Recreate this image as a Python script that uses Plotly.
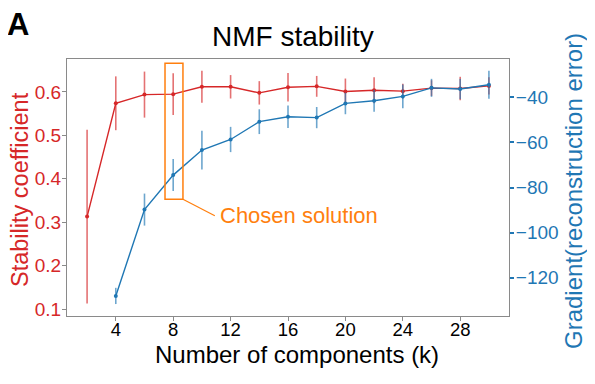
import plotly.graph_objects as go

# ---- data ----
k_stability = [2, 4, 6, 8, 10, 12, 14, 16, 18, 20, 22, 24, 26, 28, 30]
stability = [0.313, 0.574, 0.594, 0.595, 0.612, 0.612, 0.598, 0.611, 0.613,
             0.601, 0.604, 0.602, 0.609, 0.608, 0.614]
stability_err = [0.200, 0.062, 0.053, 0.048, 0.037, 0.027, 0.027, 0.033, 0.024,
                 0.030, 0.030, 0.017, 0.018, 0.027, 0.020]

k_gradient = [4, 6, 8, 10, 12, 14, 16, 18, 20, 22, 24, 26, 28, 30]
gradient = [-128.1, -89.8, -74.5, -63.4, -58.7, -50.8, -48.6, -49.0, -42.7,
            -41.5, -39.6, -35.8, -36.3, -34.4]
gradient_err = [3.6, 7.1, 7.1, 8.6, 5.6, 5.5, 5.0, 4.7, 4.8, 4.9, 5.3, 4.0, 4.5, 6.2]

x_ticks = [4, 8, 12, 16, 20, 24, 28]
y_left_ticks = [0.1, 0.2, 0.3, 0.4, 0.5, 0.6]
y_right_ticks = [-40, -60, -80, -100, -120]
y_right_labels = ["\u221240", "\u221260", "\u221280", "\u2212100", "\u2212120"]

chosen_k = 8

RED = "#d62728"
BLUE = "#1f77b4"
ORANGE = "#ff7f0e"
FRAME = "#8a8a8a"
FONT = "Arial, Liberation Sans, sans-serif"

# page body has an 8px margin; figure fills the rest of the 595x384 window
OFF = 8
W, H = 595 - OFF, 384 - OFF
PL, PR, PT, PB = 67, 509, 59, 316          # plot area in window pixels
ML, MR, MT, MB = PL - OFF, W - (PR - OFF), PT - OFF, H - (PB - OFF)


def px(xw):
    return (xw - PL) / (PR - PL)


def py(yw):
    return (PB - yw) / (PB - PT)


fig = go.Figure()

fig.add_trace(go.Scatter(
    x=k_stability, y=stability, mode="lines+markers",
    line=dict(color=RED, width=1.4), marker=dict(color=RED, size=4),
    error_y=dict(type="data", array=stability_err, visible=True,
                 color="rgba(214,39,40,0.65)", thickness=1.6, width=0),
    yaxis="y", showlegend=False,
))
fig.add_trace(go.Scatter(
    x=k_gradient, y=gradient, mode="lines+markers",
    line=dict(color=BLUE, width=1.4), marker=dict(color=BLUE, size=4),
    error_y=dict(type="data", array=gradient_err, visible=True,
                 color="rgba(31,119,180,0.65)", thickness=1.6, width=0),
    yaxis="y2", showlegend=False,
))

fig.update_layout(
    width=W, height=H, autosize=False,
    margin=dict(l=ML, r=MR, t=MT, b=MB, pad=0),
    paper_bgcolor="white", plot_bgcolor="white",
    font=dict(family=FONT, size=19, color="black"),
    xaxis=dict(
        range=[0.6, 31.4], tickvals=x_ticks, showgrid=False, zeroline=False,
        showline=True, linecolor=FRAME, linewidth=1, mirror=True,
        ticks="outside", ticklen=4, tickcolor=FRAME, automargin=False,
        tickfont=dict(size=18.5, color="black"), ticklabelstandoff=-7,
    ),
    yaxis=dict(
        range=[0.084, 0.676], tickvals=y_left_ticks, tickformat=".1f",
        showgrid=False, zeroline=False,
        showline=True, linecolor=FRAME, linewidth=1, automargin=False,
        ticks="outside", ticklen=4, tickcolor=FRAME,
        tickfont=dict(size=19, color=RED), ticklabelstandoff=-3,
    ),
    yaxis2=dict(
        range=[-137, -23], tickvals=y_right_ticks, ticktext=y_right_labels,
        overlaying="y", side="right", showgrid=False, zeroline=False,
        showline=True, linecolor=FRAME, linewidth=1, automargin=False,
        ticks="outside", ticklen=4, tickcolor=BLUE, tickwidth=2,
        tickfont=dict(size=19, color=BLUE), ticklabelstandoff=-2,
    ),
)

# chosen-solution box and callout
fig.add_shape(type="rect", xref="x", yref="y",
              x0=chosen_k - 0.57, x1=chosen_k + 0.68, y0=0.353, y1=0.666,
              line=dict(color=ORANGE, width=1.5))
fig.add_shape(type="line", xref="x", yref="y",
              x0=chosen_k + 0.68, y0=0.353, x1=chosen_k + 2.9, y1=0.315,
              line=dict(color=ORANGE, width=1.2))
fig.add_annotation(x=chosen_k + 2.9, y=0.315, xref="x", yref="y",
                   text="Chosen solution", showarrow=False,
                   xanchor="left", yanchor="middle", xshift=3,
                   font=dict(size=22, color=ORANGE, family=FONT))

# titles and labels
fig.add_annotation(x=px(293), y=py(36), xref="paper", yref="paper",
                   text="NMF stability", showarrow=False,
                   xanchor="center", yanchor="middle",
                   font=dict(size=28, color="black", family=FONT))
fig.add_annotation(x=px(8), y=py(24), xref="paper", yref="paper",
                   text="<b>A</b>", showarrow=False, borderpad=0,
                   xanchor="left", yanchor="middle", xshift=-2,
                   font=dict(size=31, color="black", family=FONT))
fig.add_annotation(x=px(297), y=py(354), xref="paper", yref="paper",
                   text="Number of components (k)", showarrow=False,
                   xanchor="center", yanchor="middle",
                   font=dict(size=24, color="black", family=FONT))
fig.add_annotation(x=px(8), y=py(190), xref="paper", yref="paper",
                   text="Stability coefficient", showarrow=False, textangle=-90,
                   xanchor="left", yanchor="middle", borderpad=0, xshift=-2,
                   font=dict(size=23.5, color=RED, family=FONT))
fig.add_annotation(x=px(573), y=py(191), xref="paper", yref="paper",
                   text="Gradient(reconstruction error)", showarrow=False, textangle=-90,
                   xanchor="center", yanchor="middle",
                   font=dict(size=24, color=BLUE, family=FONT))

fig.write_html("out.html")
